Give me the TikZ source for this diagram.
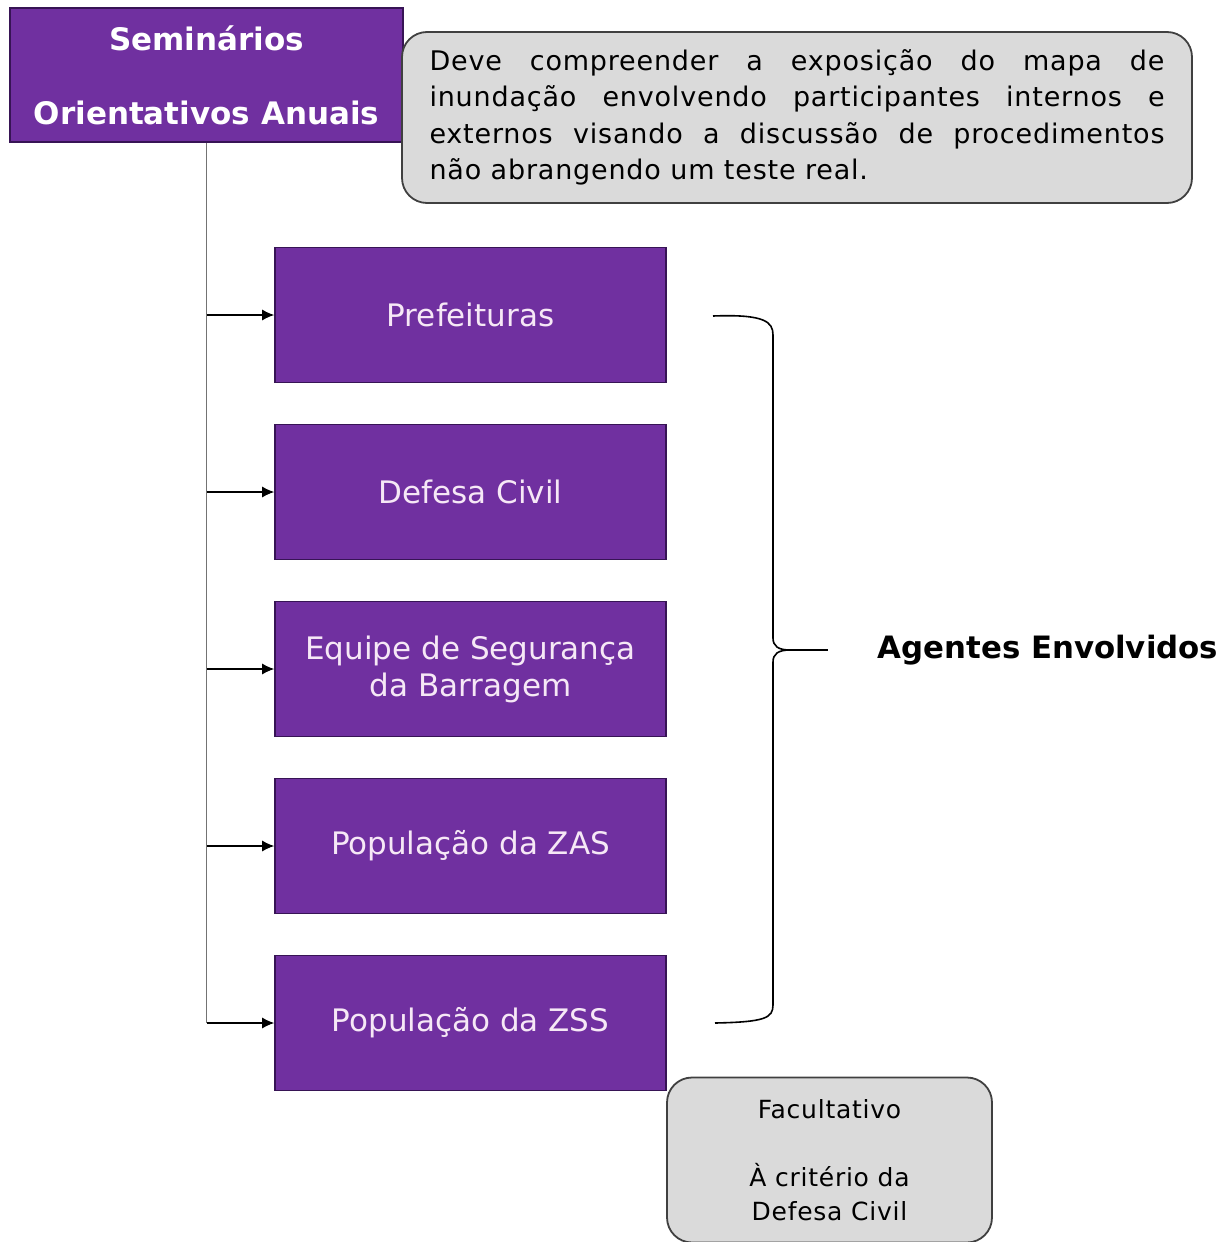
\documentclass[tikz,border=0pt]{standalone}
\usepackage{fontspec}
\setmainfont{DejaVu Sans}
\newfontfamily\largo[LetterSpace=3]{DejaVu Sans}
\usetikzlibrary{positioning, arrows.meta}

\definecolor{roxo}{RGB}{112,48,160}
\definecolor{roxoborda}{RGB}{55,20,85}
\definecolor{cinza}{RGB}{218,218,218}
\definecolor{textoclaro}{RGB}{246,232,246}

\tikzset{
  agente/.style={draw=roxoborda, fill=roxo, line width=0.8pt, minimum width=195.5pt,
    minimum height=67.5pt, inner sep=0pt, text=textoclaro, align=center,
    font=\fontsize{15.5}{18.5}\selectfont},
  nota/.style={draw=black!75, fill=cinza, line width=0.9pt, rounded corners=12.5pt},
  tronco/.style={draw=black!55, line width=0.6pt},
  seta/.style={-{Latex[length=6pt, width=5.5pt]}, line width=0.6pt},
}

\begin{document}
\begin{tikzpicture}[x=0.5pt, y=-0.5pt]
	\useasboundingbox (0,0) rectangle (1227,1242);
	% titulo e nota
	\node[agente, minimum width=196.5pt, minimum height=67pt, text=white,
		font=\bfseries\fontsize{15.5}{37}\selectfont] (semin) at (206.5,75) {Seminários\\Orientativos Anuais};
	\node[nota, minimum width=395pt, minimum height=85.5pt, inner sep=0pt] (nota) at (797,117.5) {};
	\node[text width=367.5pt, align=justify, inner sep=0pt, font=\largo\fontsize{13.5}{18.25}\selectfont] (notatexto) at (nota.center)
		{\hyphenpenalty=10000 Deve compreender a exposição do mapa de\linebreak inundação envolvendo participantes internos e\linebreak externos visando a discussão de procedimentos\linebreak não abrangendo um teste real.};

	% agentes
	\node[agente] (pref) at (470.5,315) {Prefeituras};
	\node[agente, below=20.2pt of pref] (defesa) {Defesa Civil};
	\node[agente, below=20.2pt of defesa] (equipe) {Equipe de Segurança\\da Barragem};
	\node[agente, below=20.2pt of equipe] (zas) {População da ZAS};
	\node[agente, below=20.2pt of zas] (zss) {População da ZSS};

	\draw[tronco] (semin.south) -- (semin.south |- zss.west);
	\foreach \n in {pref, defesa, equipe, zas, zss}
		\draw[seta] (semin.south |- \n.west) -- (\n.west);

	% chave
	\coordinate (ponta) at (790,650);
	\draw[line width=0.8pt] (713,316) .. controls (765,314) and (773,322) .. (773,335) -- (773,638)
		.. controls (773,646) and (778,650) .. (ponta)
		.. controls (778,650) and (773,654) .. (773,662) -- (773,1005)
		.. controls (773,1018) and (765,1022) .. (715,1023);
	\draw[line width=1.2pt] (ponta) -- ++(38,0);
	\node[font=\bfseries\fontsize{15.4}{17}\selectfont] (agentes) at (1048,650) {Agentes Envolvidos};

	% nota inferior
	\node[nota, minimum width=162.5pt, minimum height=82.5pt, align=center, inner sep=0pt,
		font=\largo\fontsize{12.5}{17}\selectfont] (facult) at (829.5,1160) {Facultativo\\[17pt]À critério da\\Defesa Civil};
\end{tikzpicture}
\end{document}
